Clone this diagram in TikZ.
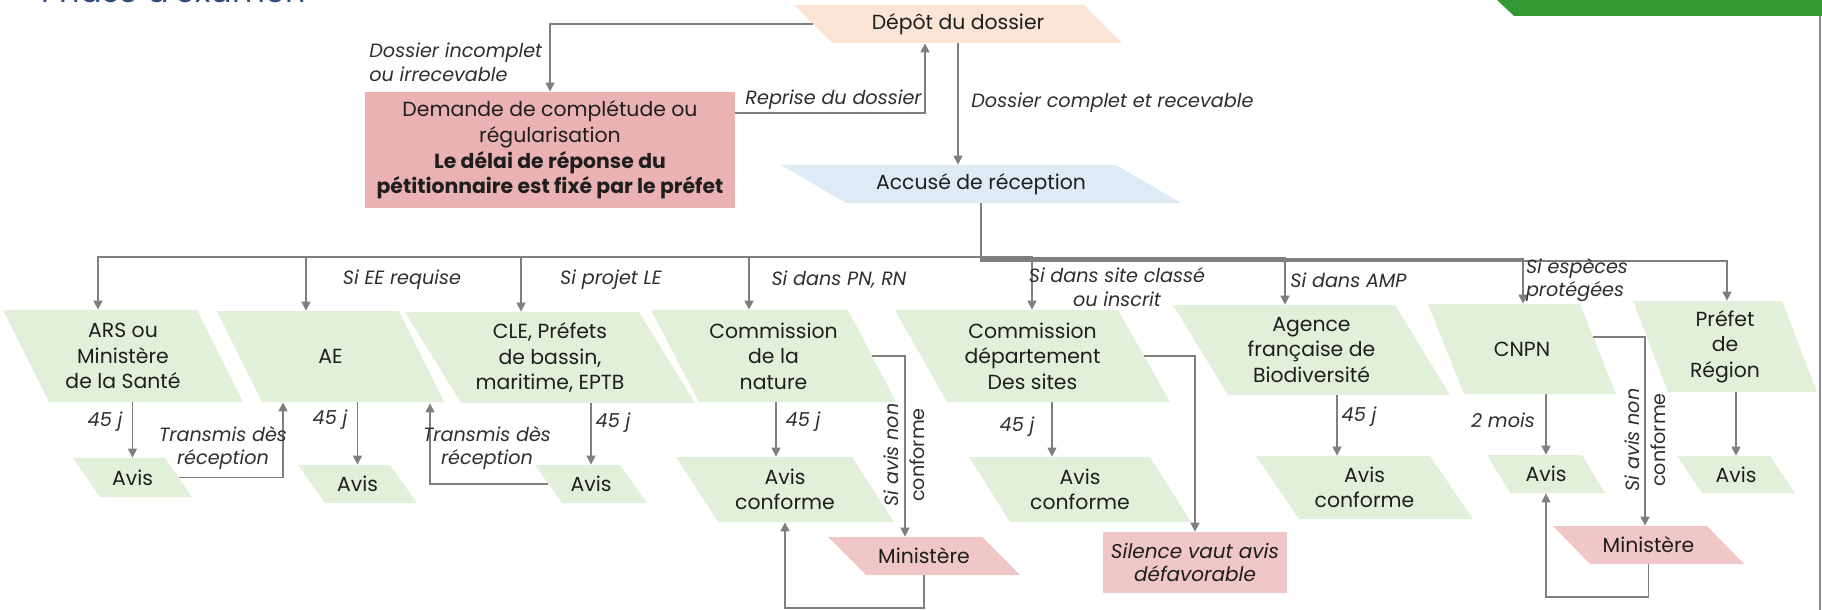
\documentclass[tikz,border=0pt]{standalone}
\usepackage{fontspec}
\setmainfont{Poppins}
\usetikzlibrary{arrows.meta}
\definecolor{peach}{HTML}{FBE5D6}
\definecolor{lblue}{HTML}{DEEBF7}
\definecolor{lgreen}{HTML}{E2F0D9}
\definecolor{dpink}{HTML}{EAB2B2}
\definecolor{lpink}{HTML}{F0C6C6}
\definecolor{bandgreen}{HTML}{339933}
\definecolor{linegray}{HTML}{7F7F7F}
\definecolor{titleblue}{HTML}{2F4B7C}
\definecolor{txtcol}{HTML}{1E1E1E}
\definecolor{lblcol}{HTML}{2E2E2E}
\newcommand\para[8]{%
  \fill[#2] (#3,#4) -- ++(#5,0) -- ++(#7,#6) -- ++(-#5,0) -- cycle;
  \node[txt, minimum width=#5*0.5pt, minimum height=#6*0.5pt] (#1) at ({#3+#5/2+#7/2},{#4+#6/2}) {#8};
}
\begin{document}
\begin{tikzpicture}[x=0.5pt,y=-0.5pt,
  txt/.style={font=\fontsize{10.2}{12.8}\selectfont, align=center, text=txtcol, inner sep=0pt},
  lbl/.style={font=\fontsize{9.6}{11.8}\selectfont\itshape, text=lblcol, inner sep=0pt},
  rot/.style={font=\fontsize{9.6}{13}\selectfont\itshape, text=lblcol, inner sep=0pt, rotate=90, align=center},
  arr/.style={draw=linegray, line width=0.7pt, -{Triangle[length=4.5pt,width=4.5pt]}},
  ln/.style={draw=linegray, line width=0.7pt}]
\useasboundingbox (0,0) rectangle (1822,610);
\clip (0,0) rectangle (1822,610);
% header decorations
\node[anchor=base west, font=\fontsize{16}{19}\selectfont, text=titleblue, inner sep=0pt] (title) at (41,3) {Phase d'examen};
\fill[bandgreen] (1497,0) -- (1822,0) -- (1822,16) -- (1514,16) -- cycle;
\draw[draw=linegray!90, line width=0.8pt] (1820,16) -- (1820,610);
% shapes
\para{depot}{peach}{794}{5}{290}{38}{38}{Dépôt du dossier}
\node[txt, fill=dpink, minimum width=185pt, minimum height=58pt] (demande) at (550,150)
  {Demande de complétude ou\\régularisation\\\bfseries Le délai de réponse du\\\bfseries pétitionnaire est fixé par le préfet};
\para{accuse}{lblue}{781}{165}{335}{38}{65}{Accusé de réception}
\para{ars}{lgreen}{3}{310}{194}{92}{46}{ARS ou\\Ministère\\de la Santé}
\para{ae}{lgreen}{217}{311}{182}{91}{45}{AE}
\para{cle}{lgreen}{405}{312}{234}{91}{56}{CLE, Préfets\\de bassin,\\maritime, EPTB}
\para{cnat}{lgreen}{651}{310}{197}{92}{48}{Commission\\de la\\nature}
\para{cdep}{lgreen}{895}{310}{223}{92}{52}{Commission\\département\\Des sites}
\para{afb}{lgreen}{1173}{305}{222}{90}{55}{Agence\\française de\\Biodiversité}
\para{cnpn}{lgreen}{1428}{304}{152}{90}{36}{CNPN}
\para{prefet}{lgreen}{1633}{301}{149}{91}{35}{Préfet\\de\\Région}
\para{avisA}{lgreen}{73}{458}{92}{39}{27}{Avis}
\para{avisB}{lgreen}{298}{465}{92}{38}{27}{Avis}
\para{avisC}{lgreen}{535}{465}{85}{38}{27}{Avis}
\para{avisD}{lgreen}{676}{457}{176}{65}{42}{Avis\\conforme}
\para{minD}{lpink}{828}{537}{154}{38}{38}{Ministère}
\para{avisE}{lgreen}{969}{457}{181}{65}{41}{Avis\\conforme}
\node[txt, fill=lpink, minimum width=92pt, minimum height=30.5pt, font=\fontsize{10}{11.5}\selectfont\itshape] (silence) at (1195,562.5) {Silence vaut avis\\défavorable};
\para{avisF}{lgreen}{1256}{456}{174}{63}{43}{Avis\\conforme}
\para{avisG}{lgreen}{1487}{455}{95}{38}{23}{Avis}
\para{minG}{lpink}{1553}{526}{154}{38}{37}{Ministère}
\para{avisH}{lgreen}{1677}{456}{93}{37}{25}{Avis}
% top connectors
\draw[arr] (depot.west) -| (demande.north);
\coordinate (rp) at (925,113);
\draw[arr] (demande.east |- rp) -| (rp |- depot.south);
\draw[arr] (depot.south) -- (depot.south |- accuse.north);
\node[lbl, align=left, anchor=west] (l1) at (369,62) {Dossier incomplet\\ou irrecevable};
\node[lbl, anchor=east] (l2) at (922,100) {Reprise du dossier};
\node[lbl, anchor=west] (l3) at (971,103) {Dossier complet et recevable};
% bus
\coordinate (bA) at (98,257);
\coordinate (bB) at (306,257);
\coordinate (bC) at (521,257);
\coordinate (bD) at (749,257);
\coordinate (bE) at (1032,257);
\coordinate (bF) at (1285,258);
\coordinate (bG) at (1523,259);
\coordinate (bH) at (1727,261);
\foreach \b/\t in {bA/ars,bB/ae,bC/cle,bD/cnat,bE/cdep,bF/afb,bG/cnpn,bH/prefet}
  \draw[arr] (accuse.south) |- (\b) -- (\b |- \t.north);
\node[lbl] (l4) at (402,280) {Si EE requise};
\node[lbl] (l5) at (611,280) {Si projet LE};
\node[lbl] (l6) at (839,280) {Si dans PN, RN};
\node[lbl, align=center] (l7) at (1117,287) {Si dans site classé\\ou inscrit};
\node[lbl, anchor=west] (l8) at (1290,280) {Si dans AMP};
\node[lbl, align=left] (l9) at (1577,280) {Si espèces\\protégées};
% second level
\draw[arr] (avisA.north |- ars.south) -- (avisA.north);
\draw[arr] (avisB.north |- ae.south) -- (avisB.north);
\draw[arr] (avisC.north |- cle.south) -- (avisC.north);
\coordinate (d1) at (776,0);
\draw[arr] (d1 |- cnat.south) -- (d1 |- avisD.north);
\coordinate (e1) at (1052,0);
\draw[arr] (e1 |- cdep.south) -- (e1 |- avisE.north);
\coordinate (f1) at (1337,0);
\draw[arr] (f1 |- afb.south) -- (f1 |- avisF.north);
\draw[arr] (avisG.north |- cnpn.south) -- (avisG.north);
\draw[arr] (avisH.north |- prefet.south) -- (avisH.north);
\node[lbl] (j1) at (105,422) {45 j};
\node[lbl] (j2) at (330,420) {45 j};
\node[lbl] (j3) at (613,423) {45 j};
\node[lbl] (j4) at (803,422) {45 j};
\node[lbl] (j5) at (1017,427) {45 j};
\node[lbl] (j6) at (1359,417) {45 j};
\node[lbl] (j7) at (1503,420) {2 mois};
% transmis
\coordinate (t1) at (283,0);
\draw[arr] (avisA.east) -| (t1 |- ae.south);
\node[lbl, align=center] (l10) at (223,448) {Transmis dès\\réception};
\coordinate (t2) at (430,0);
\draw[arr] (avisC.west) -| (t2 |- cle.south);
\node[lbl, align=center] (l11) at (487,448) {Transmis dès\\réception};
% non conforme
\coordinate (d2) at (905,0);
\draw[arr] (cnat.east) -| (d2 |- minD.north);
\node[rot] (r1) at (904,455) {Si avis non\\\upshape conforme};
\coordinate (d3) at (0,608);
\draw[arr] (minD.south) |- (d3 -| avisD.south) -- (avisD.south);
\draw[arr] (cdep.east) -| (silence.north);
\coordinate (g2) at (1645,0);
\draw[arr] ([shift={(-5,-12)}]cnpn.east) -| (g2 |- minG.north);
\node[rot] (r2) at (1645,440) {Si avis non\\\upshape conforme};
\coordinate (g3) at (0,597);
\draw[arr] (minG.south) |- (g3 -| avisG.south) -- (avisG.south);
\end{tikzpicture}
\end{document}
